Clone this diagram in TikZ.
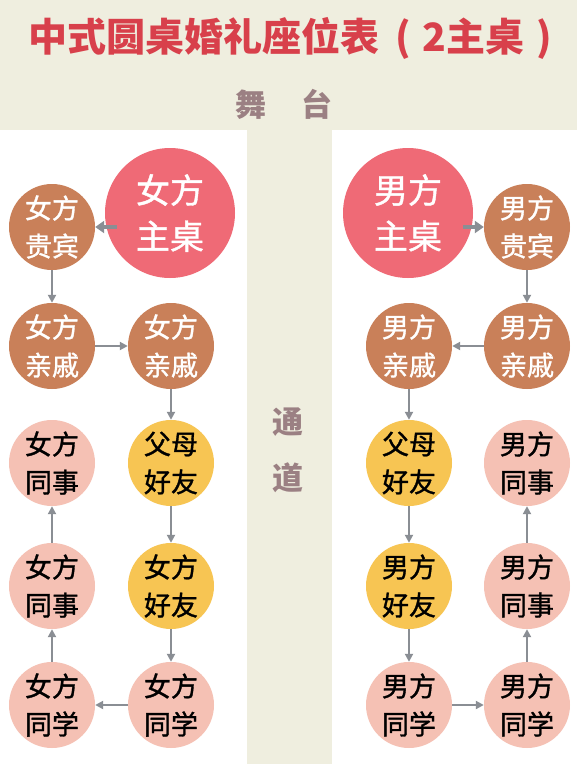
\documentclass[tikz,border=0pt]{standalone}
\usepackage{fontspec}
\newfontfamily\cjk{Noto Sans CJK SC}
\newfontfamily\cjkmed[FakeBold=1.2]{Noto Sans CJK SC}
\usetikzlibrary{arrows.meta}

\definecolor{bgbeige}{HTML}{EFEEDF}
\definecolor{titlered}{HTML}{D8404B}
\definecolor{stagegray}{HTML}{9B8083}
\definecolor{zhured}{HTML}{EF6A76}
\definecolor{qinbrown}{HTML}{C98059}
\definecolor{tongpink}{HTML}{F5C1B4}
\definecolor{youyellow}{HTML}{F7C553}
\definecolor{arrgray}{HTML}{8A8E94}

\begin{document}
\begin{tikzpicture}[x=1pt, y=-1pt,
    every node/.style={font=\cjk, inner sep=0pt, align=center},
    zhuzhuo/.style={circle, fill=zhured, text=white, minimum size=130pt, font=\cjkmed\fontsize{34}{46}\selectfont},
    seat/.style={circle, minimum size=86pt, font=\cjkmed\fontsize{27}{38}\selectfont},
    brownseat/.style={seat, fill=qinbrown, text=white},
    pinkseat/.style={seat, fill=tongpink, text=black},
    yellowseat/.style={seat, fill=youyellow, text=black},
    arr/.style={draw=arrgray, line width=2pt, -{Triangle[length=8pt,width=8pt]}},
    fatarr/.style={draw=arrgray, line width=4pt, -{Triangle[length=9pt,width=12pt]}}]
    % hall: stage band, aisle, two white sides
    \fill[bgbeige] (0,0) rectangle (577,764);
    \fill[white] (0,130) rectangle (247,764);
    \fill[white] (332,130) rectangle (577,764);

    \node (title) at (290,38) [text=titlered, font=\cjk\bfseries\fontsize{39}{39}\selectfont] {中式圆桌婚礼座位表\hspace{17pt}(\hspace{11pt}2主桌\hspace{12pt})};
    \node (stage) at (284,104) [text=stagegray, font=\cjk\bfseries\fontsize{31}{31}\selectfont] {舞\hspace{35pt}台};
    \node (aisle) at (288,450) [text=stagegray, font=\cjk\bfseries\fontsize{31}{56}\selectfont] {通\\道};

    % bride side
    \node (nvzhu)  at (170,213) [zhuzhuo] {女方\\主桌};
    \node (nvgui)  at (52,227)  [brownseat] {女方\\贵宾};
    \node (nvqin1) at (52,346)  [brownseat] {女方\\亲戚};
    \node (nvqin2) at (171,346) [brownseat] {女方\\亲戚};
    \node (nvfu)   at (171,463) [yellowseat] {父母\\好友};
    \node (nvyou)  at (171,586) [yellowseat] {女方\\好友};
    \node (nvxue2) at (171,705) [pinkseat] {女方\\同学};
    \node (nvxue1) at (52,705)  [pinkseat] {女方\\同学};
    \node (nvshi2) at (52,586)  [pinkseat] {女方\\同事};
    \node (nvshi1) at (52,463)  [pinkseat] {女方\\同事};

    % groom side
    \node (nanzhu)  at (408,213) [zhuzhuo] {男方\\主桌};
    \node (nangui)  at (527,227) [brownseat] {男方\\贵宾};
    \node (nanqin1) at (527,346) [brownseat] {男方\\亲戚};
    \node (nanqin2) at (409,346) [brownseat] {男方\\亲戚};
    \node (nanfu)   at (409,463) [yellowseat] {父母\\好友};
    \node (nanyou)  at (409,586) [yellowseat] {男方\\好友};
    \node (nanxue1) at (409,705) [pinkseat] {男方\\同学};
    \node (nanxue2) at (527,705) [pinkseat] {男方\\同学};
    \node (nanshi2) at (527,586) [pinkseat] {男方\\同事};
    \node (nanshi1) at (527,463) [pinkseat] {男方\\同事};

    % seating order
    \draw[fatarr] (nvzhu.west |- nvgui) ++(12,0) -- (nvgui.east);
    \draw[arr] (nvgui) -- (nvqin1);
    \draw[arr] (nvqin1) -- (nvqin2);
    \draw[arr] (nvqin2) -- (nvfu);
    \draw[arr] (nvfu) -- (nvyou);
    \draw[arr] (nvyou) -- (nvxue2);
    \draw[arr] (nvxue2) -- (nvxue1);
    \draw[arr] (nvxue1) -- (nvshi2);
    \draw[arr] (nvshi2) -- (nvshi1);

    \draw[fatarr] (nanzhu.east |- nangui) ++(-10,0) -- (nangui.west);
    \draw[arr] (nangui) -- (nanqin1);
    \draw[arr] (nanqin1) -- (nanqin2);
    \draw[arr] (nanqin2) -- (nanfu);
    \draw[arr] (nanfu) -- (nanyou);
    \draw[arr] (nanyou) -- (nanxue1);
    \draw[arr] (nanxue1) -- (nanxue2);
    \draw[arr] (nanxue2) -- (nanshi2);
    \draw[arr] (nanshi2) -- (nanshi1);
\end{tikzpicture}
\end{document}
